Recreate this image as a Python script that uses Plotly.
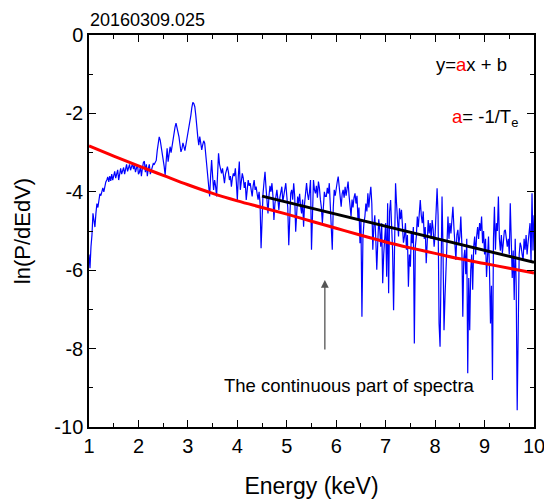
import numpy as np
import plotly.graph_objects as go

# ---------------- data ----------------
E_START = 1.0
E_STEP = 0.02
ln_p = [
    -5.60, -5.95, -5.40, -5.10, -4.55,
    -4.80, -4.90, -4.55, -4.30, -4.40,
    -4.20, -4.05, -4.10, -3.95, -3.90,
    -4.00, -3.85, -3.75, -3.70, -3.62,
    -3.75, -3.60, -3.72, -3.55, -3.70,
    -3.62, -3.48, -3.65, -3.52, -3.44,
    -3.70, -3.50, -3.40, -3.55, -3.45,
    -3.38, -3.55, -3.42, -3.30, -3.48,
    -3.36, -3.30, -3.45, -3.35, -3.28,
    -3.42, -3.32, -3.50, -3.38, -3.30,
    -3.55, -3.50, -3.35, -3.60, -3.40,
    -3.25, -3.22, -3.50, -3.30, -3.60,
    -3.40, -3.30, -3.55, -3.45, -3.35,
    -3.28, -3.30, -3.25, -3.20, -2.95,
    -2.70, -2.60, -2.68, -2.85, -2.90,
    -3.10, -3.35, -3.57, -3.05, -2.89,
    -3.23, -3.05, -2.85, -3.00, -2.80,
    -2.68, -2.55, -2.35, -2.25, -2.35,
    -2.51, -2.60, -2.80, -2.98, -2.90,
    -2.75, -2.85, -2.95, -2.80, -2.65,
    -2.59, -2.40, -2.25, -2.05, -1.85,
    -1.72, -1.75, -1.83, -2.05, -2.25,
    -2.60, -2.81, -2.59, -2.75, -2.93,
    -2.80, -2.70, -2.76, -3.00, -3.36,
    -3.55, -3.80, -4.12, -3.60, -3.19,
    -3.60, -3.95, -3.70, -3.85, -4.12,
    -3.50, -3.02, -3.30, -3.45, -3.53,
    -3.40, -3.65, -3.78, -3.55, -3.40,
    -3.36, -3.50, -3.70, -3.60, -3.87,
    -3.65, -3.53, -3.60, -3.40, -3.75,
    -4.21, -3.60, -3.23, -3.95, -3.70,
    -3.53, -3.65, -3.90, -3.75, -4.21,
    -3.95, -3.70, -3.85, -3.78, -3.95,
    -4.12, -3.85, -3.70, -3.95, -3.87,
    -4.05, -4.20, -4.00, -4.30, -5.44,
    -4.40, -4.04, -3.75, -3.49, -3.90,
    -4.20, -4.55, -4.10, -3.85, -4.00,
    -3.78, -4.10, -4.72, -4.30, -4.05,
    -3.95, -4.20, -4.46, -4.15, -4.00,
    -3.87, -4.25, -4.05, -3.90, -3.78,
    -4.10, -4.40, -5.36, -4.30, -4.04,
    -3.95, -4.20, -3.78, -4.10, -5.02,
    -4.40, -4.12, -4.30, -4.05, -4.38,
    -4.55, -4.20, -4.89, -4.30, -3.90,
    -3.78, -4.05, -4.21, -4.00, -3.70,
    -5.48, -4.30, -3.70, -3.95, -4.04,
    -3.85, -4.15, -3.74, -3.90, -4.20,
    -4.40, -4.80, -4.25, -4.00, -4.12,
    -4.12, -3.90, -4.05, -3.78, -4.30,
    -4.60, -5.48, -4.40, -3.95, -4.10,
    -3.85, -3.75, -3.61, -3.95, -4.20,
    -4.38, -4.05, -3.95, -4.15, -3.87,
    -4.10, -3.90, -3.74, -4.10, -4.30,
    -4.63, -4.20, -4.40, -4.15, -4.04,
    -4.30, -4.10, -4.72, -4.40, -5.31,
    -4.70, -7.19, -5.20, -4.80, -4.63,
    -4.30, -4.50, -4.04, -4.40, -4.10,
    -3.87, -4.30, -5.48, -4.90, -4.60,
    -5.20, -5.99, -5.30, -4.70, -4.97,
    -5.40, -4.80, -6.33, -5.60, -5.14,
    -4.80, -6.17, -4.29, -6.59, -4.50,
    -4.21, -4.90, -5.50, -7.02, -4.60,
    -3.78, -4.30, -4.90, -5.14, -4.42,
    -4.70, -4.46, -4.90, -5.30, -5.14,
    -4.80, -5.48, -5.10, -6.42, -5.60,
    -5.91, -5.00, -5.31, -4.90, -7.87,
    -5.40, -5.14, -4.63, -4.90, -4.40,
    -4.21, -4.60, -4.80, -4.50, -5.20,
    -4.90, -5.82, -5.30, -4.72, -5.06,
    -4.80, -5.20, -4.72, -4.95, -5.40,
    -5.10, -4.60, -3.91, -4.60, -7.36,
    -7.95, -5.00, -4.12, -5.50, -7.53,
    -6.68, -5.80, -4.90, -4.63, -5.20,
    -4.80, -5.06, -4.70, -4.38, -4.90,
    -5.30, -5.74, -5.10, -4.97, -5.31,
    -5.14, -4.63, -5.30, -7.19, -5.70,
    -5.48, -6.10, -5.20, -8.63, -6.20,
    -7.53, -6.00, -5.60, -6.50, -5.40,
    -5.14, -5.60, -5.14, -4.90, -5.20,
    -4.80, -5.00, -4.63, -5.31, -5.00,
    -5.60, -5.20, -6.17, -5.40, -5.14,
    -6.00, -7.36, -6.40, -8.80, -5.20,
    -4.38, -5.48, -4.80, -5.00, -4.12,
    -5.20, -5.50, -5.10, -5.57, -5.30,
    -5.00, -4.97, -5.30, -5.40, -5.20,
    -5.60, -4.29, -5.50, -6.20, -5.50,
    -6.76, -5.20, -6.40, -9.57, -8.04,
    -5.60, -5.30, -5.40, -5.60, -5.74,
    -5.20, -5.48, -5.10, -5.60, -5.30,
    -4.97, -4.80, -5.80, -4.04, -5.50,
    -4.60,
]
energy = np.round(E_START + E_STEP * np.arange(len(ln_p)), 2)

# red curve (fit over whole range), read at 0.5 keV steps
red_x = [1.0, 1.5, 2.0, 2.5, 3.0, 3.5, 4.0, 4.5, 5.0, 5.5, 6.0, 6.5,
         7.0, 7.5, 8.0, 8.5, 9.0, 9.5, 10.0]
red_y = [-2.83, -3.09, -3.34, -3.58, -3.82, -4.04, -4.23, -4.40, -4.57,
         -4.75, -4.93, -5.11, -5.28, -5.43, -5.57, -5.71, -5.83, -5.95, -6.07]

# black linear fit over the continuous part
black_x = [4.5, 10.0]
black_y = [-4.11, -5.80]

x_ticks = [1, 2, 3, 4, 5, 6, 7, 8, 9, 10]
y_ticks = [0, -2, -4, -6, -8, -10]
y_tick_text = ["0", "-2", "-4", "-6", "-8", "-10"]

# ---------------- figure ----------------
FONT = "Arial, 'Liberation Sans', sans-serif"

fig = go.Figure()
fig.add_trace(go.Scatter(x=energy, y=ln_p, mode="lines",
                         line=dict(color="#0000ff", width=1.2),
                         showlegend=False, hoverinfo="skip"))
fig.add_trace(go.Scatter(x=red_x, y=red_y, mode="lines",
                         line=dict(color="#ff0000", width=3, shape="spline"),
                         showlegend=False))
fig.add_trace(go.Scatter(x=black_x, y=black_y, mode="lines",
                         line=dict(color="#000000", width=3),
                         showlegend=False))

axis_common = dict(
    showgrid=False, zeroline=False, showline=True, linecolor="black",
    linewidth=1.5, mirror="ticks", ticks="inside", ticklen=7, tickwidth=1.3,
    tickcolor="black", tickfont=dict(family=FONT, size=20, color="black"),
    automargin=False, ticklabeloverflow="allow",
)

fig.update_xaxes(range=[1, 10], tickvals=x_ticks,
                 minor=dict(ticks="inside", ticklen=4, tickwidth=1.2,
                            dtick=0.5, tickcolor="black"),
                 title=dict(text="Energy (keV)",
                            font=dict(family=FONT, size=23, color="black"),
                            standoff=22),
                 **axis_common)
fig.update_yaxes(range=[-10, 0], tickvals=y_ticks, ticktext=y_tick_text,
                 minor=dict(ticks="inside", ticklen=4, tickwidth=1.2,
                            dtick=1, tickcolor="black"),
                 title=dict(text="ln(P/dEdV)",
                            font=dict(family=FONT, size=22, color="black"),
                            standoff=18),
                 **axis_common)

annots = [
    dict(xref="paper", yref="paper", x=-0.003, y=1.0, yshift=3,
         xanchor="left", yanchor="bottom", showarrow=False,
         text="20160309.025", font=dict(family=FONT, size=18, color="black")),
    dict(xref="paper", yref="y", x=0.943, y=-0.76, xanchor="right",
         yanchor="middle", showarrow=False,
         text="y=<span style='color:#ff0000'>a</span>x + b",
         font=dict(family=FONT, size=18.5, color="black")),
    dict(xref="paper", yref="y", x=0.968, y=-2.12, xanchor="right",
         yanchor="middle", showarrow=False,
         text="<span style='color:#ff0000'>a</span>= -1/T<sub>e</sub>",
         font=dict(family=FONT, size=18.5, color="black")),
    dict(xref="x", yref="y", x=6.26, y=-8.95, xanchor="center",
         yanchor="middle", showarrow=False,
         text="The continuous part of spectra",
         font=dict(family=FONT, size=18.5, color="black")),
    dict(xref="x", yref="y", x=5.77, y=-6.25, ax=5.77, ay=-8.06,
         axref="x", ayref="y", showarrow=True, arrowhead=2, arrowsize=1.2,
         arrowwidth=1.3, arrowcolor="#555555", text=""),
]

fig.update_layout(
    width=544, height=502,
    margin=dict(l=89, r=10, t=35, b=75),
    plot_bgcolor="white", paper_bgcolor="white",
    font=dict(family=FONT, color="black"),
    annotations=annots,
    showlegend=False,
)

fig.write_html("out.html")
